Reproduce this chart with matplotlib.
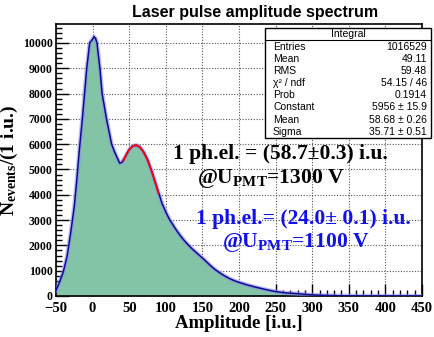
import numpy as np
import matplotlib
matplotlib.use("Agg")
import matplotlib.pyplot as plt
from matplotlib.patches import Rectangle
from matplotlib.ticker import MultipleLocator

# ---- data ----
amplitude = [-50, -45, -40, -35, -30, -25, -22, -18, -14, -11, -8, -4, 0, 2, 4, 6, 10, 13,
             19, 26, 30, 33, 37, 40, 45, 50, 55, 60, 65, 70, 75, 80, 85, 90, 95,
             100, 105, 110, 115, 120, 125, 130, 135, 140, 145, 150, 155, 160, 165, 170,
             175, 180, 185, 190, 195, 200, 205, 210, 215, 220, 225, 230, 235, 240, 245,
             250, 255, 260, 265, 270, 275, 280, 285, 290, 295, 300, 310, 320, 330, 340,
             350, 360, 370, 380, 390, 400, 420, 450]
counts = [220, 560, 960, 1550, 2480, 3550, 4450, 5800, 7000, 8000, 9000, 10000, 10150, 10250, 10180, 10000, 9000, 8000,
          7000, 6000, 5700, 5500, 5250, 5280, 5520, 5790, 5930, 5960, 5880, 5680, 5400, 5000, 4550, 4100, 3650,
          3320, 3030, 2800, 2580, 2380, 2200, 2040, 1890, 1760, 1630, 1500, 1370, 1230, 1100, 990,
          890, 800, 720, 650, 590, 540, 495, 450, 410, 370, 335, 300, 265, 235, 205,
          175, 155, 135, 120, 110, 100, 90, 78, 66, 55, 45, 32, 22, 15, 10,
          7, 5, 3, 2, 2, 1, 1, 0]

# Fit parameters (from stats box)
fit_const, fit_mean, fit_sigma = 5956.0, 58.68, 35.71
fit_range = (42, 90)

stats_rows = [("Entries", "1016529"), ("Mean", "49.11"), ("RMS", "59.48"),
              ("χ² / ndf", "54.15 / 46"), ("Prob", "0.1914"),
              ("Constant", "5956 ± 15.9"), ("Mean", "58.68 ± 0.26"),
              ("Sigma", "35.71 ± 0.51")]

plt.rcParams['mathtext.fontset'] = 'custom'
plt.rcParams['mathtext.rm'] = 'Liberation Serif:bold'
plt.rcParams['mathtext.bf'] = 'Liberation Serif:bold'
plt.rcParams['mathtext.it'] = 'Liberation Serif:bold'

W, H = 435, 337
fig = plt.figure(figsize=(W / 100, H / 100), dpi=100)
ax = fig.add_axes([56 / W, 1 - 296 / H, (422 - 56) / W, (296 - 24) / H])

x = np.array(amplitude, dtype=float)
y = np.array(counts, dtype=float)

ax.fill_between(x, 0, y, color='#84c4a6', lw=0, zorder=2)
ax.plot(x, y, color='#8c8cf0', lw=3.0, alpha=0.6, zorder=3)
ax.plot(x, y, color='#0a0a90', lw=1.1, zorder=4)

xf = np.linspace(fit_range[0], fit_range[1], 200)
yf = fit_const * np.exp(-0.5 * ((xf - fit_mean) / fit_sigma) ** 2)
ax.plot(xf, yf, color='#ff0000', lw=1.3, zorder=5)

ax.set_xlim(-50, 450)
ax.set_ylim(0, 10750)
ax.xaxis.set_major_locator(MultipleLocator(50))
ax.xaxis.set_minor_locator(MultipleLocator(10))
ax.yaxis.set_major_locator(MultipleLocator(1000))
ax.yaxis.set_minor_locator(MultipleLocator(200))
ax.grid(True, which='major', linestyle=(0, (1, 1.5)), color='#555555', lw=0.8, zorder=1)
ax.set_axisbelow(True)
ax.tick_params(which='both', direction='in', top=False, right=False, width=1.0)
ax.tick_params(which='major', length=9)
ax.tick_params(which='minor', length=4.5)
ax.tick_params(axis='x', pad=4.5)
ax.tick_params(axis='y', pad=2.5)
for s in ax.spines.values():
    s.set_linewidth(1.2)

for lab in ax.get_xticklabels():
    lab.set_fontfamily('Liberation Serif'); lab.set_fontweight('bold'); lab.set_fontsize(10.5)
for lab in ax.get_yticklabels():
    lab.set_fontfamily('Liberation Serif'); lab.set_fontweight('bold'); lab.set_fontsize(8.5)

ax.set_xlabel('Amplitude [i.u.]', fontfamily='Liberation Serif', fontweight='bold', fontsize=13.5, labelpad=0)
ax.set_ylabel(r'N$_{\mathrm{events}}$/(1 i.u.)', fontfamily='Liberation Serif', fontweight='bold', fontsize=14, labelpad=2)

fig.text(255 / W, 1 - 12 / H, 'Laser pulse amplitude spectrum', ha='center', va='center',
         fontfamily='Liberation Sans', fontweight='bold', fontsize=11.5)

serif = dict(fontfamily='Liberation Serif', fontweight='bold', fontsize=15.5)
fig.text(280 / W, 1 - 154 / H, '1 ph.el. = (58.7±0.3) i.u.', ha='center', va='center', color='black', **serif)
fig.text(345 / W, 1 - 179 / H, r'@U$_{\mathrm{PMT}}$=1300 V', ha='right', va='center', color='black', **serif)
fig.text(303 / W, 1 - 219 / H, '1 ph.el.= (24.0± 0.1) i.u.', ha='center', va='center', color='#1010ee', **serif)
fig.text(370 / W, 1 - 242 / H, r'@U$_{\mathrm{PMT}}$=1100 V', ha='right', va='center', color='#1010ee', **serif)

# stats box
bx0, by0, bx1, by1 = 265, 28, 431, 138
fig.add_artist(Rectangle((bx0 / W, 1 - by1 / H), (bx1 - bx0) / W, (by1 - by0) / H,
                         transform=fig.transFigure, facecolor='white', edgecolor='black', lw=1.0, zorder=10))
fig.add_artist(plt.Line2D([bx0 / W, bx1 / W], [1 - 40 / H, 1 - 40 / H], transform=fig.transFigure,
                          color='black', lw=0.8, zorder=11))
sans = dict(fontfamily='Liberation Sans', fontsize=7.5, zorder=12)
fig.text((bx0 + bx1) / 2 / W, 1 - 34 / H, 'Integral', ha='center', va='center', **sans)
for i, (k, v) in enumerate(stats_rows):
    yy = 46.7 + i * 12.14
    fig.text(273 / W, 1 - yy / H, k, ha='left', va='center', **sans)
    fig.text(427 / W, 1 - yy / H, v, ha='right', va='center', **sans)

fig.savefig('out.png', dpi=100)
